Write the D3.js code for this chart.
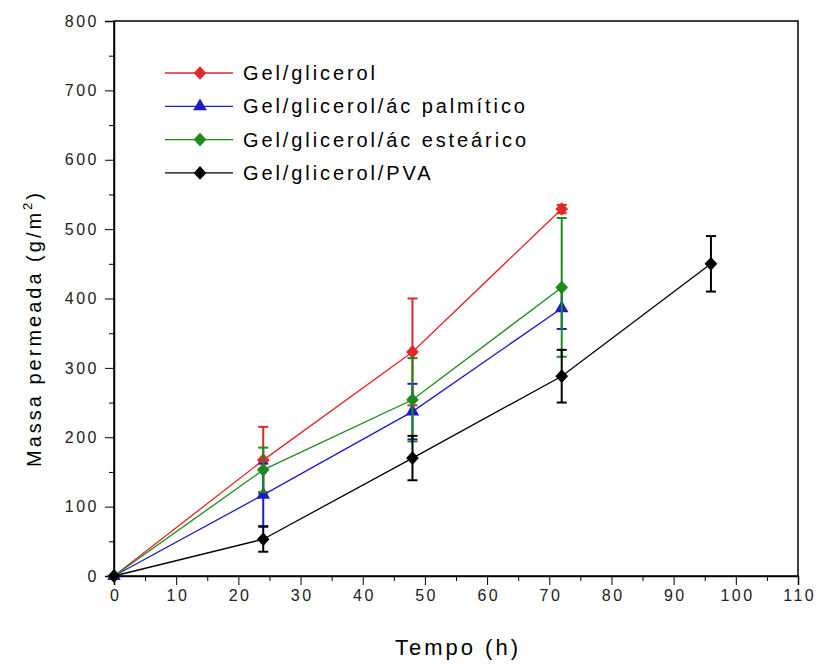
<!DOCTYPE html>
<html>
<head>
<meta charset="utf-8">
<script src="https://cdn.jsdelivr.net/npm/d3@7"></script>
<style>
  body { margin: 0; background: #fff; }
  text { font-family: "Liberation Sans", Arial, sans-serif; }
</style>
</head>
<body>
<svg id="chart" width="816" height="664"></svg>
<script>
// Series data
const times = [0, 24, 48, 72];
const timesPVA = [0, 24, 48, 72, 96];
const glicerol = [0, 167, 323, 529];
const glicerolErr = [0, 48, 77, 6];
const palmitico = [0, 117, 237, 386];
const palmiticoErr = [0, 45, 40, 30];
const estearico = [0, 153, 254, 416];
const estearicoErr = [0, 32, 60, 100];
const pva = [0, 53, 170, 288, 450];
const pvaErr = [0, 18, 32, 38, 40];

const seriesNames = ["Gel/glicerol", "Gel/glicerol/ác palmítico", "Gel/glicerol/ác esteárico", "Gel/glicerol/PVA"];
const seriesColors = ["#e02828", "#1c1cc8", "#1e8a1e", "#000000"];
const seriesSymbols = ["diamond", "triangle", "diamond", "diamond"];

const xTicks = d3.range(0, 111, 10);
const yTicks = d3.range(0, 801, 100);

// wide diamond, like the Origin marker
const wideDiamond = {
    draw(ctx, size) {
        const w = Math.sqrt(size) / 2, h = w * 1.08;
        ctx.moveTo(0, -h);
        ctx.lineTo(w, 0);
        ctx.lineTo(0, h);
        ctx.lineTo(-w, 0);
        ctx.closePath();
    }
};

document.addEventListener("DOMContentLoaded", function () {
    const svg = d3.select("#chart");
    const left = 114, right = 798, top = 21, bottom = 576;

    const x = d3.scaleLinear().domain([0, 110]).range([left, right]);
    const y = d3.scaleLinear().domain([0, 800]).range([bottom, top]);

    // Frame
    svg.append("rect")
        .attr("x", left).attr("y", top)
        .attr("width", right - left).attr("height", bottom - top)
        .attr("fill", "none").attr("stroke", "#000").attr("stroke-width", 1.5);

    // X axis with minor ticks
    svg.append("g")
        .attr("transform", `translate(0,${bottom})`)
        .call(d3.axisBottom(x).tickValues(d3.range(5, 110, 10)).tickSize(5).tickFormat(""))
        .call(g => g.select(".domain").remove());
    svg.append("g")
        .attr("transform", `translate(0,${bottom})`)
        .call(d3.axisBottom(x).tickValues(xTicks).tickSize(9).tickPadding(5))
        .call(g => g.select(".domain").attr("stroke-width", 1.5))
        .call(g => g.selectAll("text").attr("font-size", 16).attr("fill", "#222")
            .attr("letter-spacing", 2.5).attr("dx", 1.2));

    // Y axis with minor ticks
    svg.append("g")
        .attr("transform", `translate(${left},0)`)
        .call(d3.axisLeft(y).tickValues(d3.range(50, 800, 100)).tickSize(5).tickFormat(""))
        .call(g => g.select(".domain").remove());
    svg.append("g")
        .attr("transform", `translate(${left},0)`)
        .call(d3.axisLeft(y).tickValues(yTicks).tickSize(9).tickPadding(6))
        .call(g => g.select(".domain").attr("stroke-width", 1.5))
        .call(g => g.selectAll("text").attr("font-size", 16).attr("fill", "#222")
            .attr("letter-spacing", 2.5));

    // Axis titles
    svg.append("text")
        .attr("x", 458).attr("y", 655)
        .attr("text-anchor", "middle").attr("font-size", 22)
        .attr("letter-spacing", 3)
        .text("Tempo (h)");
    const yt = svg.append("text")
        .attr("transform", `translate(41,${(top + bottom) / 2 + 30}) rotate(-90)`)
        .attr("text-anchor", "middle").attr("font-size", 20).attr("letter-spacing", 3);
    yt.append("tspan").text("Massa permeada (g/m");
    yt.append("tspan").attr("dy", -9).attr("font-size", 13).text("2");
    yt.append("tspan").attr("dy", 9).text(")");

    const allSeries = [
        { t: times, v: glicerol, e: glicerolErr },
        { t: times, v: palmitico, e: palmiticoErr },
        { t: times, v: estearico, e: estearicoErr },
        { t: timesPVA, v: pva, e: pvaErr }
    ];

    const symbolPath = s => s === "triangle"
        ? d3.symbol().type(d3.symbolTriangle).size(80)()
        : d3.symbol().type(wideDiamond).size(160)();

    const line = d3.line().x(d => x(d[0])).y(d => y(d[1]));

    // Lines
    allSeries.forEach((s, i) => {
        const pts = s.t.map((t, k) => [t, s.v[k]]);
        svg.append("path")
            .datum(pts)
            .attr("d", line)
            .attr("fill", "none")
            .attr("stroke", seriesColors[i])
            .attr("stroke-width", 1.3);
    });

    // Error bars and markers
    allSeries.forEach((s, i) => {
        const g = svg.append("g");
        s.t.forEach((t, k) => {
            if (s.e[k] <= 0) return;
            const cx = x(t), y1 = y(s.v[k] + s.e[k]), y2 = y(s.v[k] - s.e[k]);
            g.append("line").attr("x1", cx).attr("x2", cx).attr("y1", y1).attr("y2", y2)
                .attr("stroke", seriesColors[i]).attr("stroke-width", 2);
            [y1, y2].forEach(yy => g.append("line")
                .attr("x1", cx - 5).attr("x2", cx + 5).attr("y1", yy).attr("y2", yy)
                .attr("stroke", seriesColors[i]).attr("stroke-width", 2));
        });
        s.t.forEach((t, k) => {
            g.append("path")
                .attr("d", symbolPath(seriesSymbols[i]))
                .attr("transform", `translate(${x(t)},${y(s.v[k])})`)
                .attr("fill", seriesColors[i]);
        });
    });

    // Legend
    const legend = svg.append("g").attr("transform", "translate(165,73)");
    seriesNames.forEach((name, i) => {
        const row = legend.append("g").attr("transform", `translate(0,${i * 33.3})`);
        row.append("line").attr("x1", 0).attr("x2", 68).attr("y1", 0).attr("y2", 0)
            .attr("stroke", seriesColors[i]).attr("stroke-width", 1.3);
        row.append("path")
            .attr("d", symbolPath(seriesSymbols[i]))
            .attr("transform", "translate(35,0)")
            .attr("fill", seriesColors[i]);
        row.append("text").attr("x", 78).attr("y", 7)
            .attr("font-size", 20).attr("letter-spacing", 2.9)
            .text(name);
    });
});
</script>
</body>
</html>
